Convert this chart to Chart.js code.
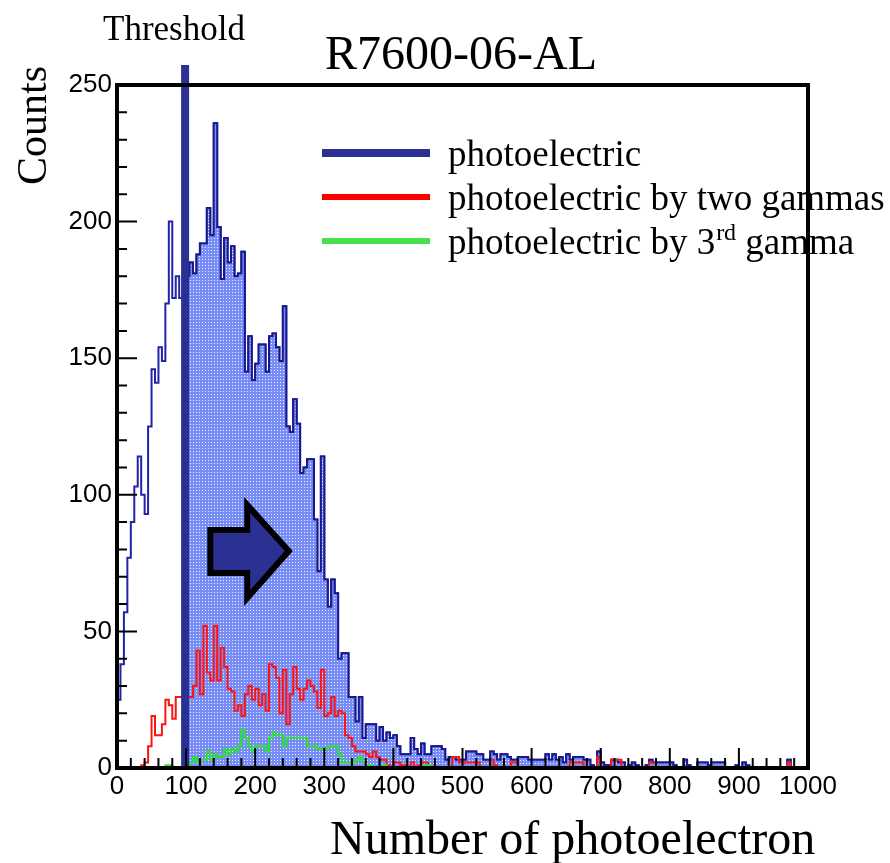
<!DOCTYPE html>
<html>
<head>
<meta charset="utf-8">
<title>R7600-06-AL</title>
<script src="https://cdn.jsdelivr.net/npm/chart.js@4.4.1/dist/chart.umd.min.js"></script>
<style>
  html, body { margin: 0; padding: 0; background: #fff; }
  canvas { display: block; }
</style>
</head>
<body>
<canvas id="phe" width="890" height="863"></canvas>
<script>
// histogram binning: 200 bins of 5 photoelectrons, 0..1000
const binWidth = 5;
const thresholdPe = 100;

// all photoelectric events
const photoCounts = [
  25, 38, 57, 77, 90, 103, 114, 100, 93, 125, 146, 141, 154, 149, 170, 200, 172, 180, 172, 176,
  180, 185, 181, 188, 192, 192, 205, 195, 236, 198, 179, 194, 185, 191, 180, 181, 189, 145, 158, 142,
  148, 155, 155, 145, 158, 159, 154, 149, 169, 125, 123, 135, 126, 108, 110, 113, 113, 91, 72, 114,
  69, 59, 69, 64, 40, 42, 42, 26, 26, 17, 26, 11, 16, 16, 16, 10, 15, 10, 13, 11,
  12, 8, 5, 5, 5, 11, 7, 5, 9, 5, 5, 8, 8, 8, 7, 3, 4, 4, 3, 3,
  3, 6, 6, 6, 5, 5, 3, 3, 6, 5, 3, 5, 5, 4, 3, 3, 4, 4, 4, 3,
  3, 3, 3, 3, 5, 3, 5, 3, 4, 2, 5, 3, 4, 4, 4, 3, 3, 1, 0, 6,
  2, 1, 1, 3, 3, 2, 2, 0, 1, 2, 1, 0, 0, 1, 3, 2, 2, 2, 2, 2,
  2, 1, 0, 0, 3, 1, 0, 0, 2, 2, 2, 1, 2, 2, 2, 2, 0, 0, 0, 1,
  0, 2, 1, 0, 0, 0, 0, 0, 0, 0, 0, 0, 0, 0, 3, 0, 0, 0, 0, 0
];

// photoelectric by two gammas
const twoGammaCounts = [
  0, 0, 0, 0, 0, 0, 0, 1, 2, 8, 19, 12, 12, 16, 25, 23, 18, 26, 26, 26,
  26, 26, 30, 43, 27, 52, 35, 32, 52, 32, 44, 37, 29, 28, 21, 23, 19, 27, 30, 25,
  29, 23, 27, 21, 38, 37, 33, 20, 36, 16, 27, 37, 29, 25, 29, 32, 30, 28, 22, 36,
  19, 20, 26, 19, 21, 20, 12, 11, 8, 6, 6, 6, 5, 4, 6, 4, 3, 3, 1, 0,
  2, 2, 1, 1, 0, 2, 0, 1, 2, 2, 0, 0, 0, 0, 0, 0, 0, 4, 4, 2,
  2, 2, 2, 2, 2, 0, 0, 0, 3, 1, 0, 0, 0, 0, 2, 2, 0, 0, 0, 0,
  0, 0, 0, 0, 0, 0, 0, 0, 0, 0, 0, 2, 2, 2, 2, 0, 0, 0, 0, 4,
  0, 0, 0, 3, 3, 3, 0, 0, 0, 0, 0, 0, 0, 0, 2, 2, 0, 0, 0, 0,
  0, 0, 0, 0, 0, 0, 0, 0, 0, 0, 0, 0, 0, 0, 0, 0, 0, 0, 0, 0,
  0, 0, 0, 0, 0, 0, 0, 0, 0, 0, 0, 0, 0, 0, 2, 0, 0, 0, 0, 0
];

// photoelectric by 3rd gamma
const thirdGammaCounts = [
  0, 0, 0, 0, 0, 0, 0, 0, 0, 0, 0, 0, 0, 0, 1, 1, 0, 0, 0, 0,
  0, 2, 4, 2, 3, 3, 6, 3, 5, 4, 4, 7, 5, 7, 6, 8, 14, 11, 8, 6,
  8, 8, 8, 6, 11, 13, 12, 12, 8, 11, 11, 11, 11, 11, 11, 8, 8, 8, 7, 7,
  7, 8, 8, 8, 5, 2, 2, 2, 2, 3, 4, 2, 0, 1, 0, 0, 0, 1, 0, 0,
  0, 0, 0, 0, 0, 0, 0, 0, 0, 1, 1, 0, 0, 0, 0, 0, 0, 0, 0, 0,
  0, 0, 0, 0, 0, 0, 0, 0, 0, 0, 0, 0, 0, 0, 0, 0, 0, 0, 0, 0,
  0, 0, 0, 0, 0, 0, 0, 0, 0, 0, 0, 0, 0, 0, 0, 0, 0, 0, 0, 0,
  0, 0, 0, 0, 0, 0, 0, 0, 0, 0, 0, 0, 0, 0, 0, 0, 0, 0, 0, 0,
  0, 0, 0, 0, 0, 0, 0, 0, 0, 0, 0, 0, 0, 0, 0, 0, 0, 0, 0, 0,
  0, 0, 0, 0, 0, 0, 0, 0, 0, 0, 0, 0, 0, 0, 0, 0, 0, 0, 0, 0
];

const xTickLabels = [0, 100, 200, 300, 400, 500, 600, 700, 800, 900, 1000];
const yTickLabels = [0, 50, 100, 150, 200, 250];

const serif = '"Liberation Serif", "Times New Roman", serif';
const sans = '"Liberation Sans", Arial, sans-serif';
const navy = 'rgb(42,49,147)';

// step points at the left edge of each bin, closed at the last right edge
function histSteps(counts, firstBin) {
  const pts = [];
  for (let i = firstBin; i < counts.length; i++) {
    pts.push({ x: i * binWidth, y: counts[i] });
  }
  pts.push({ x: counts.length * binWidth, y: counts[counts.length - 1] });
  return pts;
}

// ROOT-like dotted fill for the region above threshold: white dots on blue
function dotFill() {
  const tile = document.createElement('canvas');
  tile.width = 3;
  tile.height = 3;
  const g = tile.getContext('2d');
  g.fillStyle = 'rgb(120,140,245)';
  g.fillRect(0, 0, 3, 3);
  g.fillStyle = 'rgb(235,240,255)';
  g.fillRect(1, 1, 1, 1);
  return g.createPattern(tile, 'repeat');
}

// big arrow pointing past the threshold, in axis units
const arrowOutline = [
  [135, 87.1], [188.4, 87.1], [188.4, 96.3], [248.6, 79.4],
  [188.4, 62.2], [188.4, 71.4], [135, 71.4]
];

const frameAndNotes = {
  id: 'frameAndNotes',
  afterDatasetsDraw(chart) {
    const { ctx, chartArea: a, scales: { x, y } } = chart;
    ctx.save();

    // threshold bar, runs above the frame
    const tx = x.getPixelForValue(thresholdPe);
    ctx.fillStyle = navy;
    ctx.fillRect(tx - 5, 65, 8, a.bottom - 65);

    // arrow
    ctx.beginPath();
    arrowOutline.forEach(([vx, vy], i) => {
      const px = x.getPixelForValue(vx);
      const py = y.getPixelForValue(vy);
      if (i === 0) ctx.moveTo(px, py); else ctx.lineTo(px, py);
    });
    ctx.closePath();
    ctx.fillStyle = navy;
    ctx.fill();
    ctx.lineJoin = 'miter';
    ctx.lineWidth = 6;
    ctx.strokeStyle = '#000';
    ctx.stroke();

    // inward ticks on bottom and left
    ctx.lineWidth = 2;
    ctx.beginPath();
    for (let v = 0; v <= 1000; v += 20) {
      const px = x.getPixelForValue(v);
      const len = v % 100 === 0 ? 20 : 10;
      ctx.moveTo(px, a.bottom);
      ctx.lineTo(px, a.bottom - len);
    }
    for (let v = 0; v <= 250; v += 10) {
      const py = y.getPixelForValue(v);
      const len = v % 50 === 0 ? 20 : 10;
      ctx.moveTo(a.left, py);
      ctx.lineTo(a.left + len, py);
    }
    ctx.stroke();

    // frame
    ctx.lineWidth = 4;
    ctx.strokeRect(a.left, a.top, a.right - a.left, a.bottom - a.top);
    ctx.restore();
  },
  afterDraw(chart) {
    const { ctx } = chart;
    ctx.save();
    ctx.fillStyle = '#000';
    ctx.textBaseline = 'alphabetic';
    ctx.textAlign = 'left';

    ctx.font = '48px ' + serif;
    ctx.fillText('R7600-06-AL', 325, 69);
    ctx.fillText('Number of photoelectron', 330, 854);

    ctx.font = '35px ' + serif;
    ctx.fillText('Threshold', 103, 40);

    ctx.save();
    ctx.translate(46, 185);
    ctx.rotate(-Math.PI / 2);
    ctx.font = '42px ' + serif;
    ctx.fillText('Counts', 0, 0);
    ctx.restore();

    // legend
    const entries = [
      { color: navy, width: 8, y: 153 },
      { color: 'rgb(255,0,0)', width: 6, y: 197 },
      { color: 'rgb(70,225,70)', width: 6, y: 241 }
    ];
    entries.forEach(e => {
      ctx.fillStyle = e.color;
      ctx.fillRect(322, e.y - e.width / 2, 108, e.width);
    });
    ctx.fillStyle = '#000';
    ctx.font = '37px ' + serif;
    ctx.fillText('photoelectric', 448, 166);
    ctx.fillText('photoelectric by two gammas', 448, 210);
    let lx = 448;
    const part1 = 'photoelectric by 3';
    ctx.fillText(part1, lx, 254);
    lx += ctx.measureText(part1).width;
    ctx.font = '24px ' + serif;
    ctx.fillText('rd', lx + 1, 240);
    lx += ctx.measureText('rd').width + 1;
    ctx.font = '37px ' + serif;
    ctx.fillText(' gamma', lx, 254);
    ctx.restore();
  }
};

new Chart(document.getElementById('phe').getContext('2d'), {
  type: 'line',
  data: {
    datasets: [
      {
        label: 'photoelectric',
        data: histSteps(photoCounts, 0),
        stepped: 'before',
        borderColor: 'rgb(35,35,170)',
        borderWidth: 2,
        pointRadius: 0,
        fill: false,
        order: 5
      },
      {
        label: 'photoelectric above threshold',
        data: histSteps(photoCounts, thresholdPe / binWidth),
        stepped: 'before',
        borderColor: 'rgb(25,25,140)',
        borderWidth: 2,
        backgroundColor: dotFill(),
        pointRadius: 0,
        fill: 'origin',
        order: 4
      },
      {
        label: 'photoelectric by two gammas',
        data: histSteps(twoGammaCounts, 0),
        stepped: 'before',
        borderColor: 'rgb(255,20,20)',
        borderWidth: 2,
        pointRadius: 0,
        fill: false,
        order: 2
      },
      {
        label: 'photoelectric by 3rd gamma',
        data: histSteps(thirdGammaCounts, 0),
        stepped: 'before',
        borderColor: 'rgb(40,230,40)',
        borderWidth: 2,
        pointRadius: 0,
        fill: false,
        order: 1
      }
    ]
  },
  options: {
    responsive: false,
    animation: false,
    devicePixelRatio: 1,
    layout: {
      autoPadding: false,
      padding: { top: 85, right: 82, left: 0, bottom: 55 }
    },
    plugins: {
      legend: { display: false },
      tooltip: { enabled: false },
      title: { display: false }
    },
    scales: {
      x: {
        type: 'linear',
        min: 0,
        max: 1000,
        grid: { display: false, drawTicks: false },
        border: { display: false },
        afterFit: s => { s.height = 40; },
        afterBuildTicks: s => { s.ticks = xTickLabels.map(v => ({ value: v })); },
        ticks: {
          autoSkip: false,
          maxRotation: 0,
          padding: 3,
          color: '#000',
          font: { family: sans, size: 26 },
          callback: v => String(v)
        }
      },
      y: {
        type: 'linear',
        min: 0,
        max: 250,
        grid: { display: false, drawTicks: false },
        border: { display: false },
        afterFit: s => { s.width = 117; },
        afterBuildTicks: s => { s.ticks = yTickLabels.map(v => ({ value: v })); },
        ticks: {
          padding: 5,
          color: '#000',
          font: { family: sans, size: 26 },
          callback: v => String(v)
        }
      }
    }
  },
  plugins: [frameAndNotes]
});
</script>
</body>
</html>
